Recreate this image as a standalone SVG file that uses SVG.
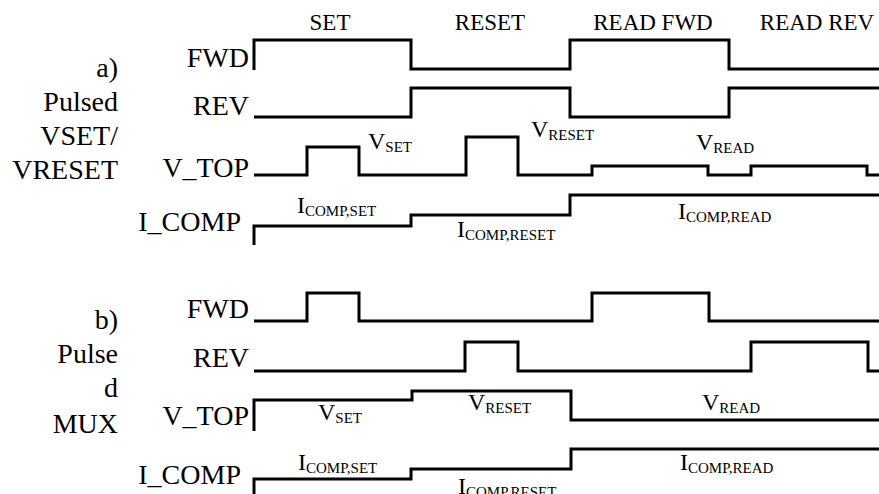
<svg xmlns="http://www.w3.org/2000/svg" width="879" height="494" viewBox="0 0 879 494">
  <style>
    text { font-family: "Liberation Serif", "Times New Roman", serif; fill: #000; }
    .phase { font-size: 23px; text-anchor: middle; }
    .sig { font-size: 28px; text-anchor: end; }
    .title { font-size: 28px; text-anchor: end; }
    .val { font-size: 24px; }
    .sub { font-size: 15px; }
    .wave { fill: none; stroke: #000; stroke-width: 3; stroke-linejoin: miter; stroke-linecap: butt; }
  </style>
  <rect width="879" height="494" fill="#fff"/>

  <!-- phase headings -->
  <g id="phases">
    <text class="phase" x="330" y="30">SET</text>
    <text class="phase" x="490" y="30">RESET</text>
    <text class="phase" x="653" y="30">READ FWD</text>
    <text class="phase" x="817" y="30">READ REV</text>
  </g>

  <!-- panel a: pulsed VSET/VRESET -->
  <g id="panel-a">
    <g id="title-a">
      <text class="title" x="118" y="77">a)</text>
      <text class="title" x="118" y="111">Pulsed</text>
      <text class="title" x="118" y="145">VSET/</text>
      <text class="title" x="118" y="179">VRESET</text>
    </g>
    <g id="a-fwd">
      <text class="sig" x="249" y="67">FWD</text>
      <path class="wave" d="M254,70 V40 H411 V69 H570 V40 H729 V69 H879"/>
    </g>
    <g id="a-rev">
      <text class="sig" x="249" y="115">REV</text>
      <path class="wave" d="M254,117 H411 V88 H570 V117 H729 V88 H879"/>
    </g>
    <g id="a-vtop">
      <text class="sig" x="249" y="177">V_TOP</text>
      <path class="wave" d="M254,175 H307 V147 H359 V175 H466 V137 H518 V175 H592 V166 H708 V175 H751 V166 H867 V175 H879"/>
      <text class="val" x="368" y="149">V<tspan class="sub" dy="3">SET</tspan></text>
      <text class="val" x="531" y="137">V<tspan class="sub" dy="3">RESET</tspan></text>
      <text class="val" x="696" y="150">V<tspan class="sub" dy="3">READ</tspan></text>
    </g>
    <g id="a-icomp">
      <text class="sig" x="241" y="231">I_COMP</text>
      <path class="wave" d="M254,245 V226 H411 V215 H570 V195 H879"/>
      <text class="val" x="297" y="213">I<tspan class="sub" dy="3">COMP,SET</tspan></text>
      <text class="val" x="457" y="237">I<tspan class="sub" dy="3">COMP,RESET</tspan></text>
      <text class="val" x="678" y="219">I<tspan class="sub" dy="3">COMP,READ</tspan></text>
    </g>
  </g>

  <!-- panel b: pulsed MUX -->
  <g id="panel-b">
    <g id="title-b">
      <text class="title" x="118" y="329">b)</text>
      <text class="title" x="118" y="363">Pulse</text>
      <text class="title" x="118" y="397">d</text>
      <text class="title" x="118" y="433">MUX</text>
    </g>
    <g id="b-fwd">
      <text class="sig" x="249" y="318">FWD</text>
      <path class="wave" d="M254,321 H307 V293 H359 V321 H592 V293 H709 V321 H879"/>
    </g>
    <g id="b-rev">
      <text class="sig" x="249" y="367">REV</text>
      <path class="wave" d="M254,371 H465 V342 H518 V371 H751 V342 H868 V371 H879"/>
    </g>
    <g id="b-vtop">
      <text class="sig" x="249" y="425">V_TOP</text>
      <path class="wave" d="M254,431 V400 H412 V391 H571 V420 H879"/>
      <text class="val" x="318" y="420">V<tspan class="sub" dy="3">SET</tspan></text>
      <text class="val" x="468" y="410">V<tspan class="sub" dy="3">RESET</tspan></text>
      <text class="val" x="702" y="410">V<tspan class="sub" dy="3">READ</tspan></text>
    </g>
    <g id="b-icomp">
      <text class="sig" x="241" y="484">I_COMP</text>
      <path class="wave" d="M254,494 V479 H411 V469 H571 V449 H879"/>
      <text class="val" x="298" y="470">I<tspan class="sub" dy="3">COMP,SET</tspan></text>
      <text class="val" x="458" y="494">I<tspan class="sub" dy="3">COMP,RESET</tspan></text>
      <text class="val" x="680" y="470">I<tspan class="sub" dy="3">COMP,READ</tspan></text>
    </g>
  </g>
</svg>
